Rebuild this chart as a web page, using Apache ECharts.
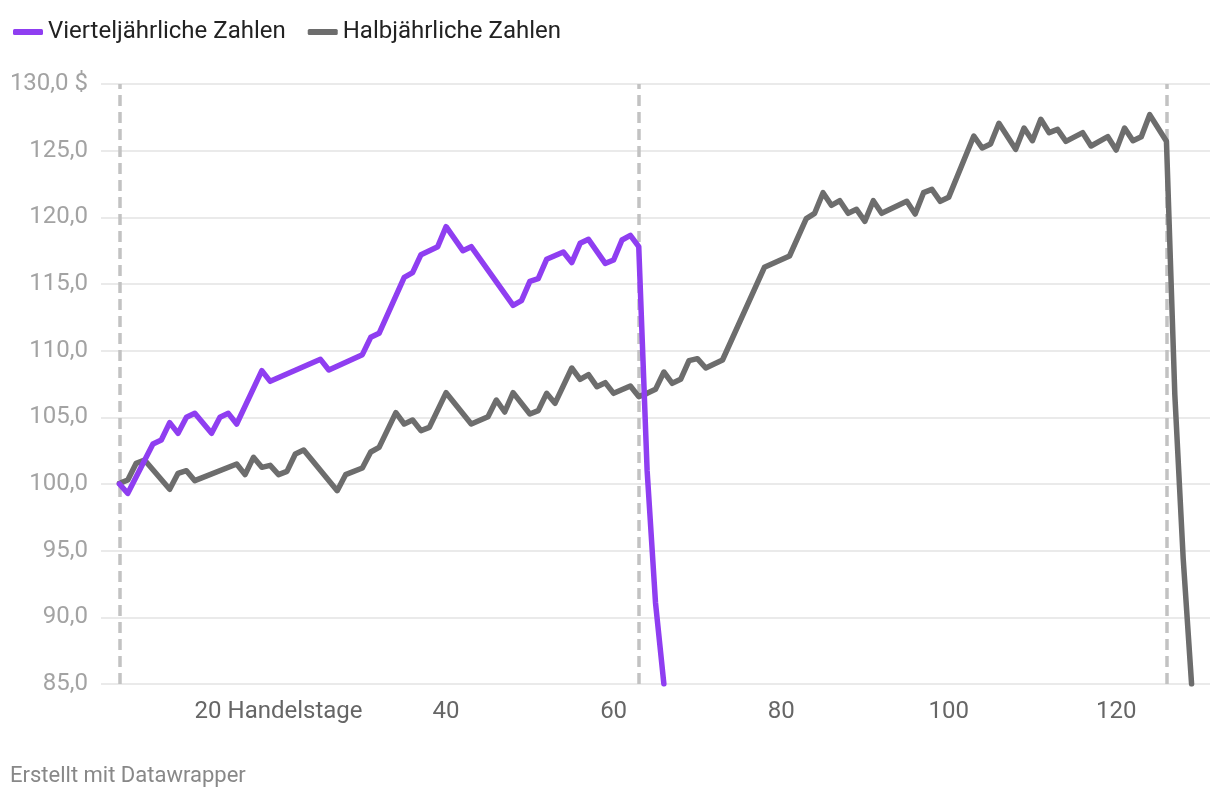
<!DOCTYPE html>
<html>
<head>
<meta charset="utf-8">
<script src="https://cdn.jsdelivr.net/npm/echarts@6/dist/echarts.min.js"></script>
<style>
  html, body { margin: 0; padding: 0; background: #fff; }
  #chart { width: 1220px; height: 800px; }
</style>
</head>
<body>
<div id="chart"></div>
<script>
// Handelstage und Werte
var quarterDays = [1,2,5,6,7,8,9,10,12,13,14,15,18,19,25,26,30,31,32,35,36,37,39,40,42,43,48,49,50,51,52,54,55,56,57,59,60,61,62,63,64,65,66];
var quarterValues = [100.0,99.3,103.0,103.3,104.6,103.8,105.0,105.3,103.8,105.0,105.3,104.5,108.5,107.7,109.35,108.55,109.7,111.0,111.3,115.5,115.85,117.2,117.8,119.3,117.5,117.8,113.4,113.75,115.2,115.4,116.85,117.4,116.6,118.05,118.35,116.55,116.8,118.3,118.65,117.8,101.0,91.1,85.0];

var halfDays = [1,2,3,4,7,8,9,10,15,16,17,18,19,20,21,22,23,27,28,30,31,32,34,35,36,37,38,40,43,45,46,47,48,50,51,52,53,55,56,57,58,59,60,62,63,64,65,66,67,68,69,70,71,73,78,81,83,84,85,86,87,88,89,90,91,92,95,96,97,98,99,100,103,104,105,106,108,109,110,111,112,113,114,116,117,119,120,121,122,123,124,126,127,128,129];
var halfValues = [100.05,100.3,101.55,101.8,99.6,100.8,101.0,100.25,101.5,100.7,102.0,101.25,101.4,100.7,100.95,102.25,102.55,99.5,100.7,101.2,102.4,102.75,105.35,104.5,104.8,104.0,104.25,106.85,104.5,105.05,106.3,105.4,106.85,105.25,105.5,106.8,106.05,108.7,107.85,108.2,107.3,107.6,106.8,107.35,106.55,106.8,107.1,108.4,107.55,107.85,109.25,109.4,108.7,109.3,116.25,117.1,119.9,120.3,121.85,120.9,121.25,120.3,120.6,119.7,121.25,120.3,121.2,120.25,121.85,122.1,121.2,121.5,126.1,125.2,125.5,127.05,125.1,126.7,125.75,127.35,126.35,126.6,125.7,126.35,125.35,126.05,125.05,126.7,125.75,126.05,127.7,125.7,106.7,94.4,85.0];

var markerDays = [1, 63, 126];
var xTicks = [20, 40, 60, 80, 100, 120];

function pairs(xs, ys) {
  var out = [];
  for (var i = 0; i < xs.length; i++) out.push([xs[i], ys[i]]);
  return out;
}

var chart = echarts.init(document.getElementById('chart'));

var option = {
  animation: false,
  textStyle: { fontFamily: 'Roboto' },
  grid: { left: 101, right: 10, top: 84, bottom: 116 },
  legend: {
    left: 8,
    top: 15,
    icon: 'roundRect',
    itemWidth: 30,
    itemHeight: 6,
    itemGap: 22,
    textStyle: { fontSize: 24, color: '#222', fontFamily: 'Roboto' },
    data: ['Vierteljährliche Zahlen', 'Halbjährliche Zahlen']
  },
  xAxis: {
    type: 'value',
    min: -1.2,
    max: 131.2,
    axisLine: { show: false },
    axisTick: { show: false },
    splitLine: { show: false },
    axisLabel: {
      customValues: xTicks,
      margin: 16,
      fontSize: 24,
      color: '#666',
      formatter: function (v) {
        return v === 20 ? '20 Handelstage' : String(v);
      }
    }
  },
  yAxis: {
    type: 'value',
    min: 85,
    max: 130,
    interval: 5,
    axisLine: { show: false },
    axisTick: { show: false },
    splitLine: { lineStyle: { color: '#e3e3e3', width: 1.5 } },
    axisLabel: {
      margin: 13,
      fontSize: 24,
      color: '#a3a3a3',
      formatter: function (v) {
        var s = v.toFixed(1).replace('.', ',');
        return v === 130 ? s + ' $' : s;
      }
    }
  },
  series: [
    {
      name: 'marker',
      type: 'line',
      data: [],
      z: 1,
      silent: true,
      markLine: {
        z: 1,
        silent: true,
        symbol: 'none',
        label: { show: false },
        lineStyle: { type: [11, 6], color: '#c2c2c2', width: 3.5 },
        data: markerDays.map(function (d) { return { xAxis: d }; })
      }
    },
    {
      name: 'Halbjährliche Zahlen',
      type: 'line',
      z: 3,
      showSymbol: false,
      color: '#6d6d6d',
      lineStyle: { width: 5.5, cap: 'round', join: 'round' },
      data: pairs(halfDays, halfValues)
    },
    {
      name: 'Vierteljährliche Zahlen',
      type: 'line',
      z: 4,
      showSymbol: false,
      color: '#8f3ef1',
      lineStyle: { width: 5.5, cap: 'round', join: 'round' },
      data: pairs(quarterDays, quarterValues)
    }
  ],
  graphic: [
    {
      type: 'text',
      left: 10,
      top: 765,
      style: { text: 'Erstellt mit Datawrapper', fontSize: 22, fill: '#888', fontFamily: 'Roboto' }
    }
  ]
};

chart.setOption(option);
</script>
</body>
</html>
